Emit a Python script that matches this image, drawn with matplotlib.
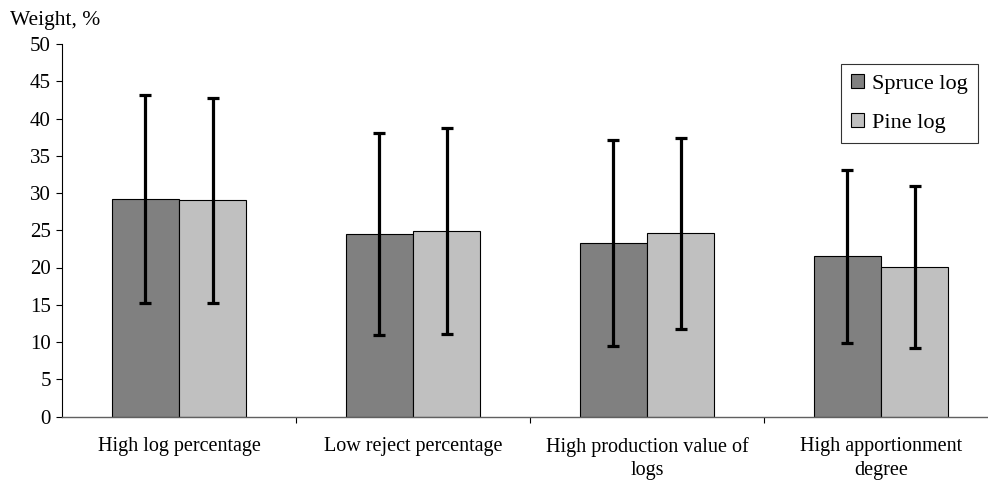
import numpy as np
import matplotlib.pyplot as plt

plt.rcParams['font.family'] = ['Liberation Serif', 'DejaVu Serif']

categories = ['High log percentage', 'Low reject percentage',
              'High production value of\nlogs', 'High apportionment\ndegree']
spruce = [29.2, 24.5, 23.3, 21.5]
spruce_err = [14.0, 13.6, 13.8, 11.6]
pine = [29.0, 24.9, 24.6, 20.1]
pine_err = [13.8, 13.8, 12.8, 10.9]

fig = plt.figure(figsize=(9.88, 4.83), dpi=100)
ax = fig.add_axes([62 / 988, (483 - 416.5) / 483, 1 - 62 / 988, 372.5 / 483])

x = np.arange(len(categories))
w = 0.288
err_kw = dict(ecolor='black', elinewidth=2.3, capsize=4.5, capthick=2.3)
ax.bar(x - w / 2, spruce, w, yerr=spruce_err, color='#808080',
       edgecolor='black', linewidth=0.8, label='Spruce log', error_kw=err_kw)
ax.bar(x + w / 2, pine, w, yerr=pine_err, color='#c0c0c0',
       edgecolor='black', linewidth=0.8, label='Pine log', error_kw=err_kw)

ax.set_xlim(-0.5, 3.5 - 10 / 234)
ax.set_ylim(0, 50)
ax.set_yticks(range(0, 51, 5))
ax.tick_params(axis='y', labelsize=15, length=4, width=0.8, direction='out', pad=4)

# category names centred under groups, tick marks between groups
ax.set_xticks(x)
ax.set_xticklabels(categories, fontsize=14.5, linespacing=1.3)
ax.tick_params(axis='x', which='major', length=0, pad=15)
ax.set_xticks([0.5, 1.5, 2.5], minor=True)
ax.tick_params(axis='x', which='minor', length=4, width=0.8, direction='out')

for s in ['top', 'right']:
    ax.spines[s].set_visible(False)
ax.spines['left'].set_linewidth(0.8)
ax.spines['bottom'].set_color('#606060')
ax.spines['bottom'].set_linewidth(1.0)

leg = ax.legend(loc='upper right', bbox_to_anchor=(978 / 988, (483 - 64) / 483),
                bbox_transform=fig.transFigure, borderaxespad=0, fontsize=16,
                frameon=True, fancybox=False, edgecolor='black',
                handlelength=0.6, handleheight=0.6, handletextpad=0.35,
                labelspacing=0.85, borderpad=0.45)
leg.get_frame().set_linewidth(0.8)

fig.text(10 / 988, 1 - 20 / 483, 'Weight, %', fontsize=15.5, va='center', ha='left')

fig.savefig('out.png', dpi=100)
